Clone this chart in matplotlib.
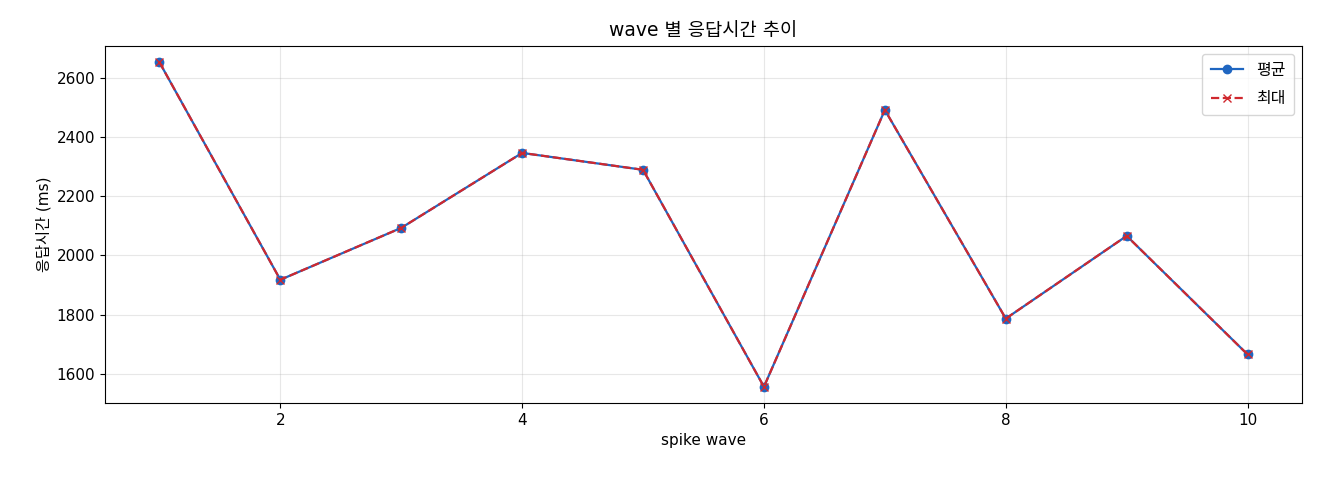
import matplotlib
matplotlib.use("Agg")
import matplotlib.pyplot as plt

plt.rcParams['font.family'] = ['DejaVu Sans', 'Noto Sans CJK KR']

waves = [1, 2, 3, 4, 5, 6, 7, 8, 9, 10]
avg_ms = [2652, 1918, 2093, 2346, 2289, 1557, 2491, 1787, 2066, 1666]
max_ms = [2652, 1918, 2093, 2346, 2289, 1557, 2491, 1787, 2066, 1666]

fig = plt.figure(figsize=(13.2, 4.8), dpi=100)
ax = fig.add_axes([105/1320, 1 - 403/480, (1302-105)/1320, (403-46)/480])

ax.plot(waves, avg_ms, color='#1f66c1', marker='o', markersize=6, linewidth=1.6, label='평균')
ax.plot(waves, max_ms, color='#d0282e', marker='x', markersize=6, linewidth=1.6,
        linestyle='--', label='최대')

ax.set_title('wave 별 응답시간 추이', fontsize=13.5, pad=7)
ax.set_xlabel('spike wave', fontsize=11)
ax.set_ylabel('응답시간 (ms)', fontsize=11)
ax.tick_params(labelsize=11)
ax.grid(True, alpha=0.3)
ax.legend(loc='upper right', fontsize=11.5, labelspacing=0.85, borderpad=0.55)

fig.savefig('out.png', dpi=100)
